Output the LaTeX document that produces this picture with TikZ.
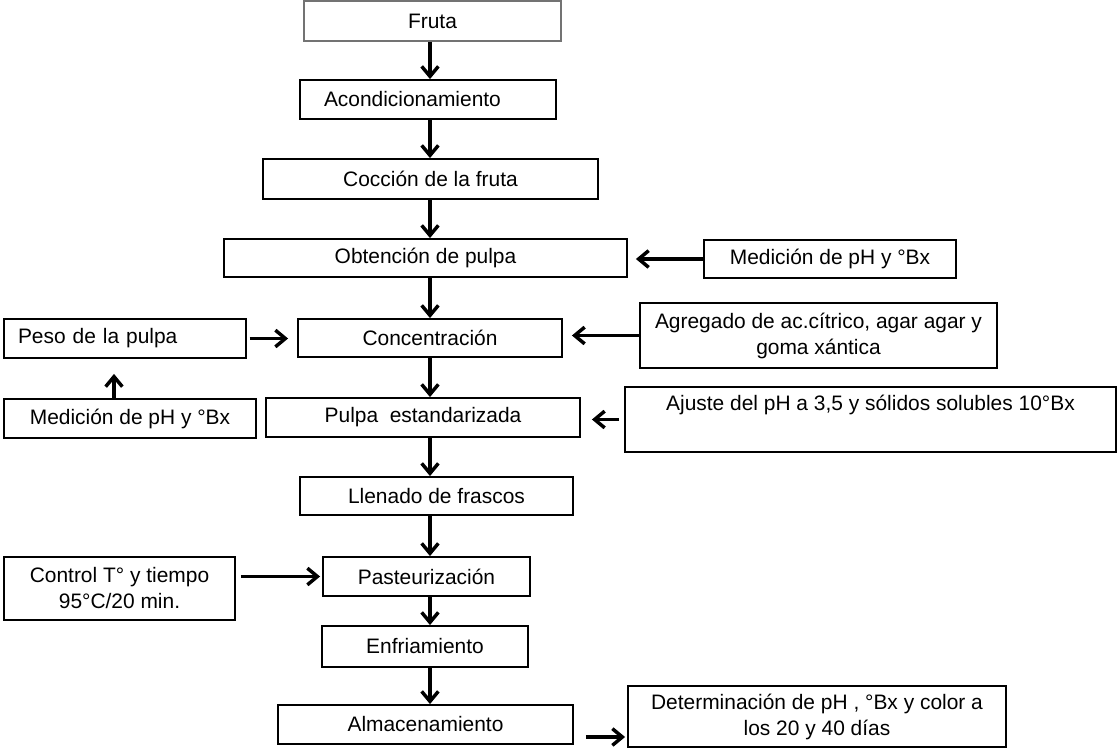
\documentclass[tikz,border=0pt]{standalone}
\usepackage{fontspec}
\setmainfont{Liberation Sans}
\usetikzlibrary{arrows.meta}

\tikzset{
  box/.style={draw=black, line width=1.4pt, fill=white, inner sep=0pt, align=center,
              font=\fontsize{15.7pt}{19.5pt}\selectfont},
  thinbox/.style={box, draw=black!55, line width=0.8pt},
  sz/.style 2 args={minimum width=#1*0.75pt, minimum height=#2*0.75pt},
  arr/.style={line width=2.9pt, -{Straight Barb[length=7.5pt, width=12.5pt, line width=2.6pt]}},
}

\begin{document}
\begin{tikzpicture}[x=0.75pt, y=-0.75pt]
\useasboundingbox (0,0) rectangle (1117,749);

% main process column
\node[thinbox, sz={257}{40}] (fruta) at (432.5,21) {Fruta};
\node[box, sz={256}{39}, align=left, text width=156pt, inner xsep=18pt] (acond) at (428,99.5) {Acondicionamiento};
\node[box, sz={335}{40}] (coccion) at (430.5,179) {Cocción de la fruta};
\node[box, sz={403}{38}] (obt) at (425.5,258) {Obtención de pulpa};
\node[box, sz={264}{38}] (conc) at (430,338) {Concentración};
\node[box, sz={314}{39}] (pulpa) at (423,417.5) {Pulpa\ \ estandarizada};
\node[box, sz={273}{38}] (llenado) at (436.5,496) {Llenado de frascos};
\node[box, sz={207}{39}] (pasteur) at (426.5,576.5) {Pasteurización};
\node[box, sz={206}{41}] (enfr) at (425,646.5) {Enfriamiento};
\node[box, sz={295}{39}] (almac) at (425.5,724.5) {Almacenamiento};

% side inputs and controls
\node[box, sz={252}{38}] (medR) at (830,259) {Medición de pH y °Bx};
\node[box, sz={357}{65}] (agreg) at (818.5,335.5) {Agregado de ac.cítrico, agar agar y\\goma xántica};
\node[box, sz={491}{65}] (ajuste) at (870.5,419.5) {Ajuste del pH a 3,5 y sólidos solubles 10°Bx\\\strut};
\node[box, sz={242}{39}, align=left, text width=160.5pt, inner xsep=10.5pt] (peso) at (125,338.5) {Peso de la pulpa};
\node[box, sz={252}{39}] (medL) at (130,418.5) {Medición de pH y °Bx};
\node[box, sz={231}{63}] (control) at (119.5,588.5) {Control T° y tiempo\\95°C/20 min.};
\node[box, sz={378}{61}] (determ) at (817,716.5) {Determinación de pH , °Bx y color a\\los 20 y 40 días};

% helper coordinates for connector lines
\coordinate (sp) at (430,0);
\coordinate (upx) at (114,0);
\coordinate (lowy) at (0,737);

% main flow
\draw[arr] (fruta.south -| sp) -- (acond.north -| sp);
\draw[arr] (acond.south -| sp) -- (coccion.north -| sp);
\draw[arr] (coccion.south -| sp) -- (obt.north -| sp);
\draw[arr] (obt.south -| sp) -- (conc.north -| sp);
\draw[arr] (conc.south -| sp) -- (pulpa.north -| sp);
\draw[arr] (pulpa.south -| sp) -- (llenado.north -| sp);
\draw[arr] (llenado.south -| sp) -- (pasteur.north -| sp);
\draw[arr] (pasteur.south -| sp) -- (enfr.north -| sp);
\draw[arr] (enfr.south -| sp) -- (almac.north -| sp);

% side connectors
\draw[arr, shorten >=6pt] (medR.west) -- (medR.west -| obt.east);
\draw[arr, shorten >=6.75pt] (agreg.west) -- (agreg.west -| conc.east);
\draw[arr, shorten <=3.75pt, shorten >=8.25pt] (ajuste.west) -- (ajuste.west -| pulpa.east);
\draw[arr, shorten <=2pt, shorten >=6.75pt] (peso.east) -- (peso.east -| conc.west);
\draw[arr, shorten >=11.25pt] (medL.north -| upx) -- (peso.south -| upx);
\draw[arr, shorten <=3.75pt, shorten >=1.5pt] (pasteur.west -| control.east) -- (pasteur.west);
\draw[arr, shorten <=9pt, shorten >=1.5pt] (almac.east |- lowy) -- (determ.west |- lowy);
\end{tikzpicture}
\end{document}
